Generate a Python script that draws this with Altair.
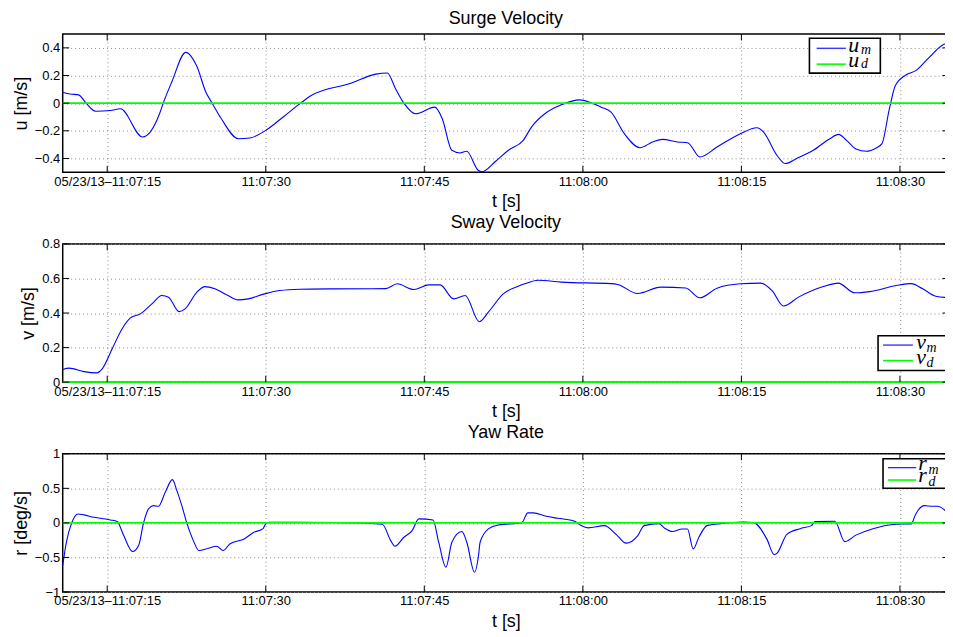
import altair as alt
import pandas as pd

# time axis: seconds after 05/23/13 11:07:00
T_START, T_END = 10.79, 94.64
x_tick_secs = [15, 30, 45, 60, 75, 90]
x_tick_labels = ["05/23/13\u201311:07:15", "11:07:30", "11:07:45",
                 "11:08:00", "11:08:15", "11:08:30"]

# ---- Surge velocity u [m/s]
u_t = [10.79, 11.5, 12.3, 13.0, 13.9, 15.3, 16.25, 18.35, 19.95, 20.3, 21.1, 22.43,
       23.46, 24.34, 24.93, 25.8, 27.4, 28.5, 30.0, 31.65, 33.3, 34.3, 38.06, 40.4,
       41.5, 42.29, 43.07, 44.17, 46.0, 46.7, 47.6, 48.4, 49.0, 50.1, 50.44, 51.7,
       52.95, 54.36, 55.14, 56.4, 57.97, 59.7, 60.64, 61.73, 62.67, 63.93, 65.4,
       66.6, 67.54, 68.96, 69.9, 71.08, 72.7, 74.9, 76.47, 77.1, 78.36, 79.14, 80.24,
       81.8, 83.37, 84.2, 84.95, 85.9, 86.8, 87.75, 88.3, 89.0, 89.57, 90.57, 91.5,
       92.77, 94.0, 94.64]
u_m = [0.079, 0.066, 0.060, 0.0, -0.058, -0.053, -0.041, -0.245, -0.077, 0.0, 0.151, 0.367,
       0.27, 0.079, 0.0, -0.113, -0.257, -0.252, -0.197, -0.1, 0.0, 0.055, 0.144, 0.21,
       0.218, 0.103, 0.0, -0.077, -0.029, -0.113, -0.341, -0.36, -0.348, -0.485, -0.496, -0.424,
       -0.341, -0.269, -0.173, -0.077, -0.012, 0.024, 0.007, -0.029, -0.065, -0.221, -0.322,
       -0.281, -0.262, -0.281, -0.286, -0.389, -0.317, -0.221, -0.178, -0.209, -0.377, -0.437, -0.4,
       -0.341, -0.257, -0.226, -0.269, -0.334, -0.348, -0.324, -0.293, -0.041, 0.127, 0.204, 0.235,
       0.331, 0.419, 0.439]
u_d_t = [T_START, T_END]
u_d = [0.0, 0.0]

# ---- Sway velocity v [m/s]
v_t = [10.79, 11.4, 12.8, 14.0, 14.53, 15.47, 16.4, 17.2, 18.13, 19.23, 20.17, 20.8,
       21.8, 22.37, 23.47, 24.25, 25.19, 26.44, 27.38, 28.33, 29.9, 31.3, 33.2, 36.3,
       41.35, 42.44, 44.0, 45.43, 46.5, 47.77, 48.87, 50.2, 51.06, 52.47, 53.88, 54.5,
       55.76, 57.97, 62.67, 63.3, 65.18, 67.38, 69.73, 71.05, 72.7, 74.9, 76.8, 77.9,
       78.99, 80.4, 82.75, 84.16, 85.73, 87.14, 89.65, 91.06, 92.16, 93.4, 94.64]
v_m = [0.073, 0.081, 0.061, 0.054, 0.077, 0.193, 0.308, 0.372, 0.395, 0.453, 0.501, 0.492,
       0.408, 0.424, 0.52, 0.553, 0.54, 0.501, 0.476, 0.482, 0.511, 0.53, 0.538, 0.54,
       0.541, 0.569, 0.536, 0.563, 0.563, 0.482, 0.501, 0.35, 0.405, 0.511, 0.555, 0.569,
       0.59, 0.579, 0.57, 0.565, 0.513, 0.55, 0.545, 0.488, 0.544, 0.569, 0.573, 0.53,
       0.441, 0.492, 0.553, 0.573, 0.517, 0.524, 0.559, 0.57, 0.54, 0.497, 0.489]
v_d_t = [T_START, T_END]
v_d = [0.0, 0.0]

# ---- Yaw rate r [deg/s]
r_t = [10.79, 11.14, 11.64, 12.23, 12.8, 13.74, 15.31, 15.94, 16.56, 17.4, 17.97, 18.44,
       18.91, 19.38, 19.85, 20.49, 21.17, 21.59, 22.06, 22.53, 23.15, 23.68, 24.56, 25.35,
       25.97, 26.6, 28.0, 28.8, 29.74, 30.06, 30.37, 36.32, 41.03, 41.82, 42.22, 43.07,
       43.85, 44.48, 45.83, 46.36, 47.05, 47.61, 48.55, 49.02, 49.75, 50.13, 50.28, 51.06,
       52.0, 54.2, 54.8, 55.3, 56.55, 57.65, 59.22, 59.84, 60.5, 62.05, 63.15, 64.1,
       65.2, 65.8, 67.2, 67.7, 68.47, 69.4, 69.9, 70.44, 70.98, 71.75, 73.0, 75.2,
       76.14, 77.4, 78.1, 78.36, 79.3, 80.54, 81.64, 81.96, 83.84, 84.78, 85.88, 87.45,
       89.65, 91.06, 91.5, 92.3, 93.07, 93.54, 94.64]
r_m = [-0.617, -0.279, 0.0, 0.13, 0.116, 0.082, 0.043, 0.019, -0.183, -0.414, -0.327, 0.0,
       0.202, 0.25, 0.241, 0.443, 0.626, 0.467, 0.25, 0.0, -0.256, -0.4, -0.366, -0.337,
       -0.4, -0.304, -0.228, -0.141, -0.083, 0.0, 0.01, 0.005, -0.019, -0.256, -0.337, -0.207,
       -0.111, 0.058, 0.043, -0.279, -0.641, -0.279, -0.125, -0.279, -0.713, -0.472, -0.28, -0.087,
       -0.029, 0.0, 0.145, 0.145, 0.096, 0.067, 0.024, -0.039, -0.072, -0.039, -0.166, -0.293,
       -0.183, -0.039, -0.01, -0.072, -0.125, -0.087, -0.087, -0.376, -0.207, -0.039, -0.01, 0.014,
       0.005, -0.231, -0.457, -0.44, -0.166, -0.083, -0.039, 0.019, 0.024, -0.27, -0.173, -0.083,
       -0.019, -0.014, 0.13, 0.25, 0.241, 0.241, 0.13]
r_d_t = [T_START, T_END]
r_d = [0.0, 0.0]

u_ticks = [-0.4, -0.2, 0, 0.2, 0.4]
v_ticks = [0, 0.2, 0.4, 0.6, 0.8]
r_ticks = [-1, -0.5, 0, 0.5, 1]

BLUE = "#0000ff"
GREEN = "#00ff00"
FONT = "Liberation Sans"
W, H = 891, 139
TICK = 6.5

label_expr = "''"
for s, lab in reversed(list(zip(x_tick_secs, x_tick_labels))):
    label_expr = f"datum.value == {s} ? '{lab}' : ({label_expr})"


def make_panel(t, m, dt, d, ydom, yticks, title, ytitle, sym, lg):
    dm = pd.DataFrame({"t": t, "v": m})
    dd = pd.DataFrame({"t": dt, "v": d})
    xs = alt.Scale(domain=[T_START, T_END], nice=False, zero=False)
    ys = alt.Scale(domain=ydom, nice=False, zero=False)
    xaxis = alt.Axis(values=x_tick_secs, labelExpr=label_expr, title="t [s]",
                     labelFlush=False, labelOverlap=False, tickCount=20)
    yaxis = alt.Axis(values=yticks, format="~g", title=ytitle, labelOverlap=False,
                     tickCount=20)
    line_m = alt.Chart(dm).mark_line(color=BLUE, strokeWidth=1.1, interpolate="monotone").encode(
        x=alt.X("t:Q", scale=xs, axis=xaxis),
        y=alt.Y("v:Q", scale=ys, axis=yaxis))
    line_d = alt.Chart(dd).mark_line(color=GREEN, strokeWidth=1.6).encode(x="t:Q", y="v:Q")
    xt = pd.DataFrame({"t": x_tick_secs})
    yt = pd.DataFrame({"v": yticks})
    xt_top = alt.Chart(xt).mark_rule(color="black", strokeWidth=1).encode(
        x="t:Q", y=alt.value(0), y2=alt.value(TICK))
    xt_bot = alt.Chart(xt).mark_rule(color="black", strokeWidth=1).encode(
        x="t:Q", y=alt.value(H - TICK), y2=alt.value(H))
    yt_l = alt.Chart(yt).mark_rule(color="black", strokeWidth=1).encode(
        y="v:Q", x=alt.value(0), x2=alt.value(TICK))
    yt_r = alt.Chart(yt).mark_rule(color="black", strokeWidth=1).encode(
        y="v:Q", x=alt.value(W - TICK), x2=alt.value(W))
    one = pd.DataFrame({"k": [0]})
    box = alt.Chart(one).mark_rect(fill="white", stroke="black", strokeWidth=1.6).encode(
        x=alt.value(lg["bx"][0]), x2=alt.value(lg["bx"][1]),
        y=alt.value(lg["by"][0]), y2=alt.value(lg["by"][1]))
    l1 = alt.Chart(one).mark_rule(color=BLUE, strokeWidth=1.1).encode(
        x=alt.value(lg["lx"][0]), x2=alt.value(lg["lx"][1]), y=alt.value(lg["ly"][0]))
    l2 = alt.Chart(one).mark_rule(color=GREEN, strokeWidth=1.6).encode(
        x=alt.value(lg["lx"][0]), x2=alt.value(lg["lx"][1]), y=alt.value(lg["ly"][1]))
    txt = []
    for i, sub in enumerate(["m", "d"]):
        txt.append(alt.Chart(one).mark_text(font="Liberation Serif", fontStyle="italic", fontSize=22,
                                            align="left", baseline="alphabetic", color="black").encode(
            x=alt.value(lg["tx"]), y=alt.value(lg["ty"][i]), text=alt.value(sym)))
        txt.append(alt.Chart(one).mark_text(font="Liberation Serif", fontStyle="italic", fontSize=14,
                                            align="left", baseline="alphabetic", color="black").encode(
            x=alt.value(lg["sx"]), y=alt.value(lg["sy"][i]), text=alt.value(sub)))
    return alt.layer(line_m, line_d, xt_top, xt_bot, yt_l, yt_r, box, l1, l2, *txt).properties(
        width=W, height=H, title=alt.TitleParams(title))


lg_u = dict(bx=(750.7, 822), by=(4.3, 39.3), lx=(758, 787.3), ly=(14.3, 30.3),
            tx=789.7, ty=(18.3, 33.3), sx=802.5, sy=(20.5, 34.5))
lg_v = dict(bx=(819.7, 888), by=(92.3, 127.3), lx=(824.7, 854.7), ly=(101.7, 117.3),
            tx=858, ty=(105.7, 121), sx=868.5, sy=(108.3, 123.3))
lg_r = dict(bx=(824.7, 889), by=(5, 34.7), lx=(829.7, 858), ly=(14, 26.4),
            tx=860, ty=(16.4, 28), sx=870.5, sy=(20.7, 32.5))

p1 = make_panel(u_t, u_m, u_d_t, u_d, [-0.5, 0.5], u_ticks, "Surge Velocity", "u [m/s]", "u", lg_u)
p2 = make_panel(v_t, v_m, v_d_t, v_d, [0, 0.8], v_ticks, "Sway Velocity", "v [m/s]", "v", lg_v)
p3 = make_panel(r_t, r_m, r_d_t, r_d, [-1, 1], r_ticks, "Yaw Rate", "r [deg/s]", "r", lg_r)

chart = alt.vconcat(p1, p2, p3, spacing=1).properties(
    padding={"left": 3, "top": -0.5, "right": -8, "bottom": -3}, background="white"
).configure_view(stroke="black", strokeWidth=1.5).configure_axis(
    grid=True, gridDash=[1, 3], gridColor="#8a8a8a", gridWidth=1, domain=False, ticks=False,
    labelFont=FONT, labelFontSize=13, labelColor="black", labelPadding=3,
    titleFont=FONT, titleFontSize=18, titleFontWeight="normal", titleColor="black", titlePadding=4
).configure_axisX(labelPadding=3, titlePadding=4.5).configure_title(
    font=FONT, fontSize=18, fontWeight="normal", color="black", offset=5.5, anchor="middle"
)

chart.save("out.html", embed_options={"renderer": "svg", "actions": False})
